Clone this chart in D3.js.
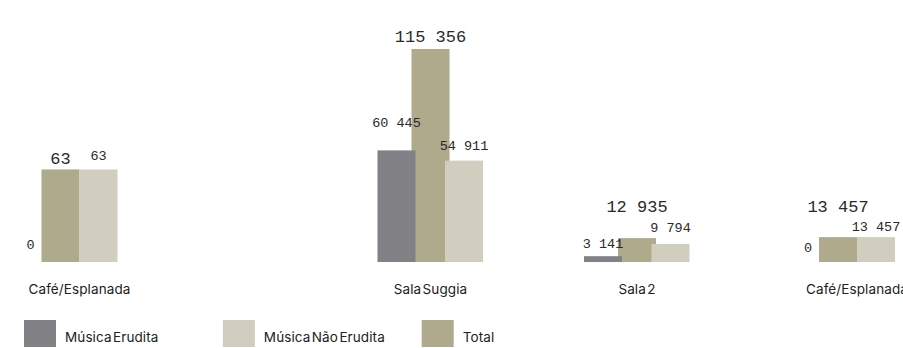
<!DOCTYPE html>
<html>
<head>
<meta charset="utf-8">
<script src="https://cdn.jsdelivr.net/npm/d3@7"></script>
<style>
  body { margin: 0; background: #fff; }
  svg { display: block; }
  .cat, .legend text { font-family: Inter, "Liberation Sans", sans-serif; font-size: 13.5px; fill: #222; word-spacing: -2.5px; letter-spacing: 0.1px; }
  .val { font-family: "Liberation Mono", "DejaVu Sans Mono", monospace; fill: #2a2a2a; }
</style>
</head>
<body>
<svg id="chart" width="903" height="348"></svg>
<script>
// Audience per venue, split by type of music
const categories = ["Café/Esplanada", "Sala Suggia", "Sala 2", "Café/Esplanada"];
const seriesNames = ["Música Erudita", "Música Não Erudita", "Total"];
const erudita = [0, 60445, 3141, 0];
const naoErudita = [63, 54911, 9794, 13457];
const total = [63, 115356, 12935, 13457];

const colors = { erudita: "#818186", nao: "#d1cebf", total: "#afaa8c" };

const svg = d3.select("#chart");
const fmt = d3.formatLocale({ decimal: ",", thousands: " ", grouping: [3], currency: ["", "€"] }).format(",");

// Value axes: the first café panel has its own scale, the others share one
const baseY = 262, topY = 49;
const yFirst = d3.scaleLinear().domain([0, 145]).range([baseY, topY]);
const yMain = d3.scaleLinear().domain([0, d3.max(total)]).range([baseY, topY]);
const yFor = i => (i === 0 ? yFirst : yMain);

// Group placement along the strip
const gx = d3.scaleOrdinal().domain(d3.range(categories.length)).range([79.5, 430.5, 637, 857]);

// Bar placement inside a group (three bars overlap slightly; with no erudite
// audience the total and non-erudite bars sit side by side)
const barW = 38;
const inner3 = d3.scaleOrdinal().domain(["erudita", "total", "nao"]).range([-34, 0, 33.5]);
const inner2 = d3.scaleOrdinal().domain(["erudita", "total", "nao"]).range([-49, -19, 19]);
const offset = (i, key) => (erudita[i] === 0 ? inner2 : inner3)(key);

// Label lift above each bar top: [erudita, total, nao]
const labelGap = [[13, 5.7, 9.7], [23, 7.3, 10.7], [8.3, 26, 12], [10.3, 25, 6.4]];
const keyIdx = { erudita: 0, total: 1, nao: 2 };

const rows = categories.map((c, i) => ({
  i, cat: c,
  bars: [
    { key: "total", v: total[i] },
    { key: "erudita", v: erudita[i] },
    { key: "nao", v: naoErudita[i] }
  ]
}));

const groups = svg.selectAll("g.group").data(rows).join("g").attr("class", "group");

groups.selectAll("rect")
  .data(d => d.bars.filter(b => b.v > 0).map(b => ({ ...b, i: d.i })))
  .join("rect")
  .attr("x", b => gx(b.i) + offset(b.i, b.key) - barW / 2)
  .attr("y", b => yFor(b.i)(b.v))
  .attr("width", barW)
  .attr("height", b => baseY - yFor(b.i)(b.v))
  .attr("fill", b => colors[b.key]);

groups.selectAll("text.val")
  .data(d => d.bars.map(b => ({ ...b, i: d.i })))
  .join("text")
  .attr("class", "val")
  .attr("text-anchor", "middle")
  .attr("x", b => gx(b.i) + offset(b.i, b.key))
  .attr("y", b => yFor(b.i)(b.v) - labelGap[b.i][keyIdx[b.key]])
  .attr("font-size", b => (b.key === "total" ? 17 : 13.5))
  .text(b => fmt(b.v));

groups.append("text")
  .attr("class", "cat")
  .attr("text-anchor", "middle")
  .attr("x", d => gx(d.i))
  .attr("y", 293.5)
  .text(d => d.cat);

// Legend
const legendKeys = ["erudita", "nao", "total"];
const lx = d3.scalePoint().domain(seriesNames).range([24, 421.7]);
const legend = svg.append("g").attr("class", "legend")
  .selectAll("g").data(seriesNames).join("g")
  .attr("transform", d => `translate(${lx(d)},320)`);
legend.append("rect").attr("width", 32).attr("height", 27)
  .attr("fill", (d, k) => colors[legendKeys[k]]);
legend.append("text").attr("x", 41).attr("y", 21.5).text(d => d);
</script>
</body>
</html>
